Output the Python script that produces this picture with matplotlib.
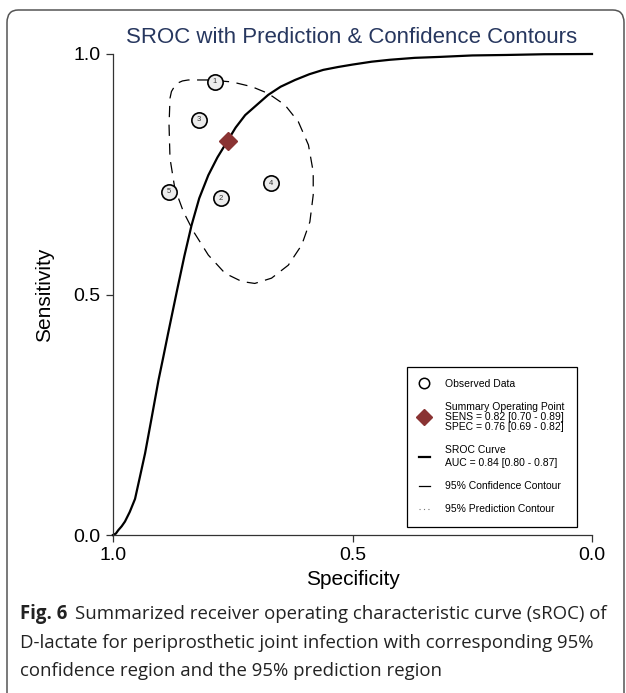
"""
plot.py

SROC curve of D-lactate with the 95% confidence contour, the observed studies
and the summary operating point.
"""

import matplotlib.pyplot as plt
from matplotlib.lines import Line2D
from matplotlib.patches import FancyBboxPatch

# Observed studies (specificity, sensitivity)
study_ids = ["1", "2", "3", "4", "5"]
study_spec = [0.787, 0.775, 0.820, 0.670, 0.883]
study_sens = [0.942, 0.700, 0.863, 0.731, 0.714]

# Summary operating point
summary_spec = 0.76
summary_sens = 0.82

# SROC curve
curve_spec = [1.0, 0.994, 0.989, 0.982, 0.975, 0.965, 0.954, 0.944, 0.933, 0.920,
              0.905, 0.895, 0.885, 0.866, 0.851, 0.836, 0.820, 0.801, 0.782,
              0.763, 0.744, 0.724, 0.700, 0.676, 0.650, 0.620, 0.590, 0.561,
              0.530, 0.500, 0.460, 0.422, 0.370, 0.317, 0.250, 0.178, 0.100, 0.0]
curve_sens = [0.0, 0.003, 0.010, 0.018, 0.028, 0.048, 0.075, 0.120, 0.170, 0.240,
              0.322, 0.370, 0.419, 0.510, 0.580, 0.644, 0.700, 0.748, 0.785,
              0.816, 0.847, 0.873, 0.894, 0.915, 0.932, 0.946, 0.958, 0.967,
              0.973, 0.978, 0.984, 0.988, 0.992, 0.994, 0.997, 0.998, 0.9995, 1.0]

# 95% confidence contour
conf_spec = [0.801, 0.843, 0.855, 0.864, 0.872, 0.878, 0.881, 0.883, 0.881, 0.871,
             0.853, 0.832, 0.801, 0.766, 0.731, 0.704, 0.669, 0.634, 0.606,
             0.589, 0.582, 0.582, 0.592, 0.613, 0.641, 0.676, 0.710, 0.752,
             0.801]
conf_sens = [0.946, 0.946, 0.944, 0.940, 0.932, 0.922, 0.908, 0.852, 0.783, 0.721,
             0.672, 0.631, 0.582, 0.544, 0.527, 0.523, 0.534, 0.561, 0.603,
             0.651, 0.707, 0.755, 0.811, 0.859, 0.894, 0.918, 0.932, 0.942,
             0.946]

ticks = [1.0, 0.5, 0.0]
tick_labels = ["1.0", "0.5", "0.0"]

legend_labels = [
    "Observed Data",
    "Summary Operating Point\nSENS = 0.82 [0.70 - 0.89]\nSPEC = 0.76 [0.69 - 0.82]",
    "SROC Curve\nAUC = 0.84 [0.80 - 0.87]",
    "95% Confidence Contour",
    "95% Prediction Contour",
]

W, H = 626, 693
plt.rcParams["font.family"] = ["Liberation Sans", "DejaVu Sans"]

fig = plt.figure(figsize=(W / 100, H / 100), dpi=100)

# rounded frame around figure + caption
frame = FancyBboxPatch((7 / W, -0.2), 617 / W, 1.2 - 10 / H,
                       boxstyle="round,pad=0,rounding_size=0.018",
                       transform=fig.transFigure, fill=False,
                       edgecolor="#555555", linewidth=1.1)
fig.patches.append(frame)

ax = fig.add_axes([113 / W, 1 - 535 / H, 479 / W, 481 / H])

ax.plot(curve_spec, curve_sens, color="black", linewidth=1.6, clip_on=False)
ax.plot(conf_spec, conf_sens, color="black", linewidth=0.9,
        linestyle=(0, (9, 6)))
ax.plot(study_spec, study_sens, linestyle="none", marker="o", markersize=11,
        markerfacecolor="#ececec", markeredgecolor="black",
        markeredgewidth=1.2)
for sid, sp, se in zip(study_ids, study_spec, study_sens):
    ax.text(sp, se, sid, ha="center", va="center", fontsize=5.5,
            color="#333333")
ax.plot([summary_spec], [summary_sens], linestyle="none", marker="D",
        markersize=9.5, color="#8a3333")

ax.set_xlim(1.0, 0.0)
ax.set_ylim(0.0, 1.0)
ax.set_xticks(ticks)
ax.set_xticklabels(tick_labels)
ax.set_yticks(ticks)
ax.set_yticklabels(tick_labels)
ax.tick_params(direction="out", length=5, width=0.9, labelsize=14, pad=4,
               color="#333333")
for side in ["top", "right"]:
    ax.spines[side].set_visible(False)
for side in ["left", "bottom"]:
    ax.spines[side].set_linewidth(0.9)
    ax.spines[side].set_color("#333333")
ax.set_xlabel("Specificity", fontsize=15, labelpad=4)
ax.set_ylabel("Sensitivity", fontsize=15, labelpad=14)

handles = [
    Line2D([], [], linestyle="none", marker="o", markersize=7.5,
           markerfacecolor="white", markeredgecolor="black",
           markeredgewidth=1.1),
    Line2D([], [], linestyle="none", marker="D", markersize=8,
           color="#8a3333"),
    Line2D([], [], color="black", linewidth=1.6),
    Line2D([], [], color="black", linewidth=0.9),
    Line2D([], [], color="#777777", linewidth=0.8, linestyle=(0, (1, 3))),
]
leg = ax.legend(handles, legend_labels, loc="lower right",
                bbox_to_anchor=(0.969, 0.017), fontsize=7.5, frameon=True,
                fancybox=False, edgecolor="black", framealpha=1,
                handlelength=1.0, handletextpad=1.5, borderpad=1.2,
                labelspacing=1.25, borderaxespad=0)
leg.get_frame().set_linewidth(0.9)
texts = leg.get_texts()
texts[1].set_linespacing(1.0)
texts[2].set_linespacing(1.4)

fig.text(352 / W, 1 - 43 / H,
         "SROC with Prediction & Confidence Contours",
         ha="center", va="baseline", fontsize=16, color="#27375f")

# caption
cap_font = ["Open Sans", "DejaVu Sans"]
cap_size = 13.4
fig.canvas.draw()
fig_label = fig.text(20 / W, 1 - 619 / H, "Fig. 6", ha="left", va="baseline",
                     fontsize=cap_size, fontweight="bold", family=cap_font,
                     color="#222222")
bb = fig_label.get_window_extent(fig.canvas.get_renderer())
fig.text((bb.x1 + 8) / W, 1 - 619 / H,
         "Summarized receiver operating characteristic curve (sROC) of",
         ha="left", va="baseline", fontsize=cap_size, family=cap_font,
         color="#222222")
fig.text(20 / W, 1 - 648 / H,
         "D-lactate for periprosthetic joint infection with corresponding 95%",
         ha="left", va="baseline", fontsize=cap_size, family=cap_font,
         color="#222222")
fig.text(20 / W, 1 - 676 / H,
         "confidence region and the 95% prediction region",
         ha="left", va="baseline", fontsize=cap_size, family=cap_font,
         color="#222222")

fig.savefig("out.png", dpi=100)
